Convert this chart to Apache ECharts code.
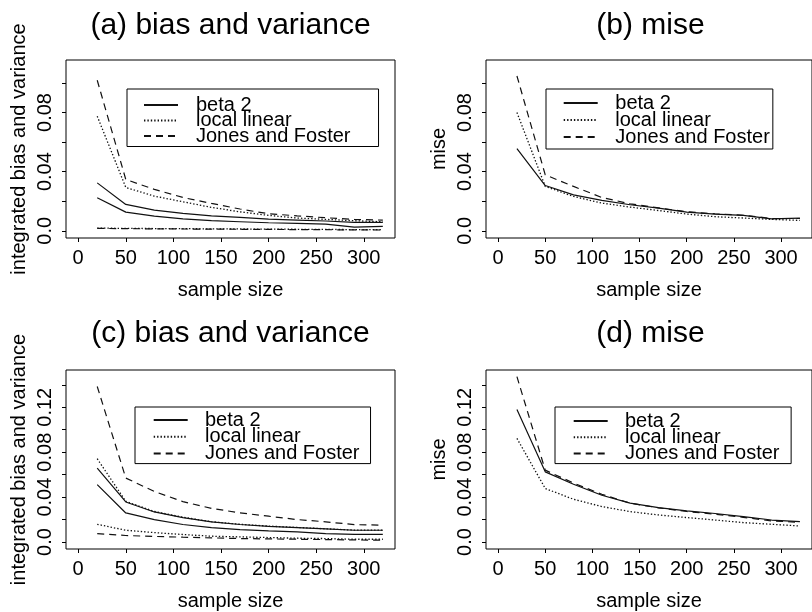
<!DOCTYPE html>
<html>
<head>
<meta charset="utf-8">
<script src="https://cdn.jsdelivr.net/npm/echarts@6/dist/echarts.min.js"></script>
<style>
html,body{margin:0;padding:0;background:#fff;}
#chart{width:812px;height:612px;}
</style>
</head>
<body>
<div id="chart"></div>
<script>
// ---- data ----
const sampleSize = [20, 50, 80, 110, 140, 170, 200, 230, 260, 290, 320];
const xTicks = [0, 50, 100, 150, 200, 250, 300];
const yTicksTop = [0, 0.02, 0.04, 0.06, 0.08, 0.10];
const yLabelsTop = [0, 0.04, 0.08];
const yTicksBottom = [0, 0.02, 0.04, 0.06, 0.08, 0.10, 0.12, 0.14];
const yLabelsBottom = [0, 0.04, 0.08, 0.12];
const methods = ['beta 2', 'local linear', 'Jones and Foster'];
const titles = ['(a) bias and variance', '(b) mise', '(c) bias and variance', '(d) mise'];
const yNames = ['integrated bias and variance', 'mise', 'integrated bias and variance', 'mise'];
const xName = 'sample size';

// (a) integrated bias and variance
const beta2A1 = [0.0324, 0.0178, 0.0140, 0.0117, 0.0101, 0.0090, 0.0079, 0.0072, 0.0066, 0.0057, 0.0057];
const beta2A2 = [0.0223, 0.0126, 0.0099, 0.0081, 0.0068, 0.0061, 0.0054, 0.0050, 0.0045, 0.0025, 0.0030];
const llA1 = [0.0775, 0.0293, 0.0234, 0.0196, 0.0158, 0.0128, 0.0104, 0.0086, 0.0077, 0.0068, 0.0061];
const llA2 = [0.0018, 0.0016, 0.0015, 0.0014, 0.0013, 0.0012, 0.0011, 0.0010, 0.0009, 0.0008, 0.0008];
const jfA1 = [0.1018, 0.0347, 0.0280, 0.0225, 0.0185, 0.0147, 0.0115, 0.0101, 0.0088, 0.0077, 0.0072];
const jfA2 = [0.0016, 0.0014, 0.0013, 0.0012, 0.0011, 0.0010, 0.0009, 0.0008, 0.0007, 0.0006, 0.0005];
// (b) mise
const beta2B = [0.0556, 0.0306, 0.0243, 0.0205, 0.0176, 0.0153, 0.0126, 0.0113, 0.0104, 0.0081, 0.0086];
const llB = [0.0800, 0.0300, 0.0232, 0.0187, 0.0160, 0.0137, 0.0113, 0.0095, 0.0086, 0.0077, 0.0070];
const jfB = [0.1047, 0.0378, 0.0300, 0.0225, 0.0182, 0.0155, 0.0128, 0.0115, 0.0105, 0.0083, 0.0083];
// (c) integrated bias and variance
const beta2C1 = [0.0659, 0.0357, 0.0268, 0.0218, 0.0179, 0.0156, 0.0140, 0.0129, 0.0117, 0.0105, 0.0105];
const beta2C2 = [0.0511, 0.0259, 0.0200, 0.0156, 0.0129, 0.0111, 0.0099, 0.0090, 0.0075, 0.0069, 0.0069];
const llC1 = [0.0742, 0.0362, 0.0272, 0.0221, 0.0181, 0.0158, 0.0142, 0.0130, 0.0118, 0.0106, 0.0106];
const llC2 = [0.0158, 0.0105, 0.0084, 0.0067, 0.0052, 0.0046, 0.0040, 0.0034, 0.0031, 0.0025, 0.0025];
const jfC1 = [0.1385, 0.0570, 0.0450, 0.0360, 0.0300, 0.0260, 0.0230, 0.0200, 0.0180, 0.0155, 0.0150];
const jfC2 = [0.0075, 0.0058, 0.0050, 0.0043, 0.0037, 0.0031, 0.0028, 0.0025, 0.0022, 0.0019, 0.0016];
// (d) mise
const beta2D = [0.1180, 0.0625, 0.0515, 0.0417, 0.0346, 0.0307, 0.0277, 0.0254, 0.0227, 0.0196, 0.0182];
const llD = [0.0923, 0.0477, 0.0381, 0.0316, 0.0271, 0.0241, 0.0218, 0.0196, 0.0173, 0.0158, 0.0143];
const jfD = [0.1473, 0.0640, 0.0525, 0.0425, 0.0346, 0.0305, 0.0272, 0.0248, 0.0220, 0.0188, 0.0175];

// ---- layout / style ----
const FONT = 'Liberation Sans, Arial, Helvetica, sans-serif';
const grids = [
  {left: 66, top: 60, width: 329, height: 178},
  {left: 486, top: 60, width: 329, height: 178},
  {left: 66, top: 370, width: 329, height: 179},
  {left: 486, top: 370, width: 329, height: 179}
];
const yRanges = [[-0.0049, 0.1155], [-0.0049, 0.1155], [-0.0062, 0.1532], [-0.0062, 0.1532]];
const lineStyles = {
  'beta 2': {type: 'solid', width: 1.2, color: '#111'},
  'local linear': {type: [1.4, 2], width: 1.3, color: '#111'},
  'Jones and Foster': {type: [7, 5], width: 1.2, color: '#111'}
};
const legendPos = [
  {left: 127, top: 89, lh: 15.5, pad: [6, 28, 0.5, 16], tp: 13},
  {left: 546, top: 89, lh: 17, pad: [4, 3, 2, 16.7], tp: 12.6},
  {left: 135, top: 407, lh: 16.7, pad: [3, 11, 0.2, 17.7], tp: 12.3},
  {left: 555, top: 407, lh: 16.3, pad: [4, 11.6, 0, 17.7], tp: 12.3}
];

const panelSeries = [
  [['beta 2', beta2A1], ['beta 2', beta2A2], ['local linear', llA1], ['local linear', llA2], ['Jones and Foster', jfA1], ['Jones and Foster', jfA2]],
  [['beta 2', beta2B], ['local linear', llB], ['Jones and Foster', jfB]],
  [['beta 2', beta2C1], ['beta 2', beta2C2], ['local linear', llC1], ['local linear', llC2], ['Jones and Foster', jfC1], ['Jones and Foster', jfC2]],
  [['beta 2', beta2D], ['local linear', llD], ['Jones and Foster', jfD]]
];

const fmtY = v => (v === 0 ? '0.0' : v.toFixed(2));

const xAxes = grids.map((g, i) => ({
  type: 'value', gridIndex: i, min: -12.8, max: 332.8,
  axisLine: {show: false, onZero: false},
  splitLine: {show: false},
  axisTick: {show: true, length: 4, lineStyle: {color: '#000', width: 1}, customValues: xTicks},
  axisLabel: {customValues: xTicks, color: '#000', fontSize: 20, fontFamily: FONT, margin: 10},
  name: xName, nameLocation: 'middle', nameGap: 42,
  nameTextStyle: {color: '#000', fontSize: 20, fontFamily: FONT}
}));

const yAxes = grids.map((g, i) => ({
  type: 'value', gridIndex: i, min: yRanges[i][0], max: yRanges[i][1],
  axisLine: {show: false, onZero: false},
  splitLine: {show: false},
  axisTick: {show: true, length: 4, lineStyle: {color: '#000', width: 1}, customValues: i < 2 ? yTicksTop : yTicksBottom},
  axisLabel: {customValues: i < 2 ? yLabelsTop : yLabelsBottom, rotate: 90, formatter: fmtY,
    color: '#000', fontSize: 20, fontFamily: FONT, margin: 11},
  name: yNames[i], nameLocation: 'middle', nameRotate: 90, nameGap: 37,
  nameTextStyle: {color: '#000', fontSize: 20, fontFamily: FONT}
}));

const series = [];
panelSeries.forEach((list, gi) => {
  list.forEach(([name, vals]) => {
    series.push({
      type: 'line', name: name, xAxisIndex: gi, yAxisIndex: gi,
      data: sampleSize.map((x, k) => [x, vals[k]]),
      symbol: 'none', showSymbol: false, silent: true,
      lineStyle: lineStyles[name], itemStyle: {color: '#111'},
      emphasis: {disabled: true}, clip: true
    });
  });
});

const legends = legendPos.map(p => ({
  data: methods, orient: 'vertical', left: p.left, top: p.top,
  padding: p.pad, itemGap: p.lh - 20, itemWidth: 34, itemHeight: 14,
  borderColor: '#000', borderWidth: 1, backgroundColor: '#fff',
  selectedMode: false,
  itemStyle: {color: 'rgba(0,0,0,0)', borderWidth: 0, opacity: 0},
  textStyle: {color: '#000', fontSize: 20, fontFamily: FONT, lineHeight: 20, padding: [0, 0, 0, p.tp]}
}));

const titleOpts = grids.map((g, i) => ({
  text: titles[i], left: g.left + g.width / 2, top: i < 2 ? 11 : 319, textAlign: 'center',
  textStyle: {color: '#000', fontSize: 30, fontWeight: 'normal', fontFamily: FONT}, padding: 0
}));

const chart = echarts.init(document.getElementById('chart'), null, {renderer: 'canvas'});
chart.setOption({
  animation: false,
  backgroundColor: '#fff',
  title: titleOpts,
  grid: grids.map(g => Object.assign({show: true, borderColor: '#000', borderWidth: 1, backgroundColor: 'transparent', containLabel: false}, g)),
  xAxis: xAxes,
  yAxis: yAxes,
  legend: legends,
  series: series
});
</script>
</body>
</html>
